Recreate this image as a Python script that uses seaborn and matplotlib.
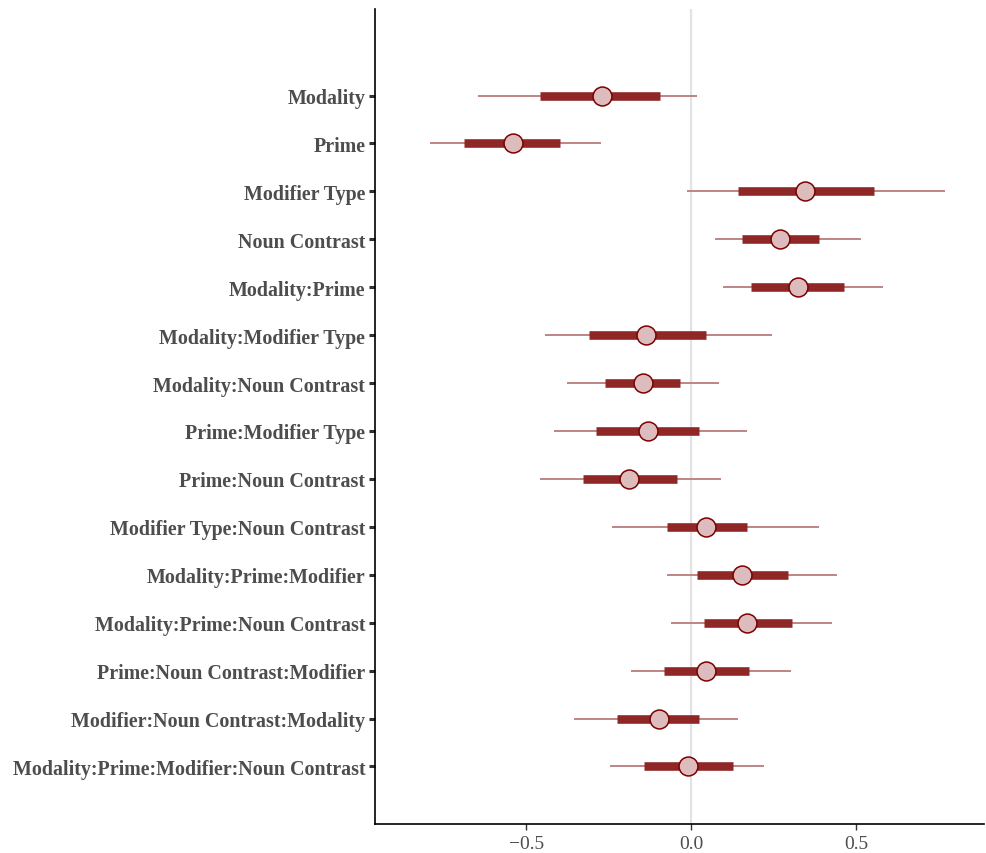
import matplotlib as mpl

mpl.use("Agg")

import matplotlib.pyplot as plt
import seaborn as sns
import numpy as np
import pandas as pd

params = [
    "Modality",
    "Prime",
    "Modifier Type",
    "Noun Contrast",
    "Modality:Prime",
    "Modality:Modifier Type",
    "Modality:Noun Contrast",
    "Prime:Modifier Type",
    "Prime:Noun Contrast",
    "Modifier Type:Noun Contrast",
    "Modality:Prime:Modifier",
    "Modality:Prime:Noun Contrast",
    "Prime:Noun Contrast:Modifier",
    "Modifier:Noun Contrast:Modality",
    "Modality:Prime:Modifier:Noun Contrast",
]
medians = [-0.27, -0.541, 0.346, 0.27, 0.325, -0.138, -0.145, -0.131, -0.188,
           0.046, 0.155, 0.170, 0.044, -0.099, -0.009]
inner_lo = [-0.458, -0.691, 0.143, 0.154, 0.183, -0.311, -0.262, -0.288, -0.327,
            -0.074, 0.018, 0.038, -0.083, -0.226, -0.142]
inner_hi = [-0.094, -0.397, 0.554, 0.388, 0.465, 0.044, -0.033, 0.024, -0.042,
            0.168, 0.294, 0.306, 0.177, 0.024, 0.127]
outer_lo = [-0.648, -0.794, -0.012, 0.073, 0.098, -0.444, -0.376, -0.416, -0.458,
            -0.240, -0.073, -0.062, -0.184, -0.355, -0.245]
outer_hi = [0.018, -0.273, 0.771, 0.515, 0.582, 0.245, 0.083, 0.170, 0.092,
            0.387, 0.444, 0.428, 0.302, 0.143, 0.220]

df = pd.DataFrame({
    "param": params, "m": medians,
    "ll": outer_lo, "l": inner_lo, "h": inner_hi, "hh": outer_hi,
})

sns.set_theme(style="white")
plt.rcParams["font.family"] = ["Liberation Serif", "DejaVu Serif"]

fig = plt.figure(figsize=(9.86, 8.54), dpi=100)
ax = fig.add_axes([0.3803, 0.034, 0.618, 0.954])

pos = np.arange(len(params))
ax.axvline(0, color="#E3E3E3", lw=1.6, zorder=0)
ax.hlines(pos, df["ll"], df["hh"], color="#B97C7C", lw=1.3, zorder=1)
ax.hlines(pos, df["l"], df["h"], color="#8F2727", lw=6.2, zorder=2)
sns.scatterplot(data=df, x="m", y="param", ax=ax, s=185, color="#DCBCBC",
                edgecolor="#7C0000", linewidth=1.1, zorder=3, legend=False)

ax.set_xlim(-0.96, 0.89)
ax.set_ylim(len(params) - 1 + 1.2, -1.8)
ax.set_xticks([-0.5, 0.0, 0.5])
ax.set_xticklabels(["\u22120.5", "0.0", "0.5"])
ax.set_yticks(pos)
ax.set_yticklabels(params, fontweight="bold")
ax.set_xlabel("")
ax.set_ylabel("")

sns.despine(ax=ax, top=True, right=True)
for side in ["left", "bottom"]:
    ax.spines[side].set_color("black")
    ax.spines[side].set_linewidth(1.2)
ax.tick_params(axis="y", length=4, width=2.2, color="#333333", pad=3,
               labelsize=14.4, labelcolor="#4D4D4D", left=True)
ax.tick_params(axis="x", length=4, width=1, color="#333333", pad=4,
               labelsize=14, labelcolor="#4D4D4D", bottom=True)

fig.savefig("out.png", dpi=100)
